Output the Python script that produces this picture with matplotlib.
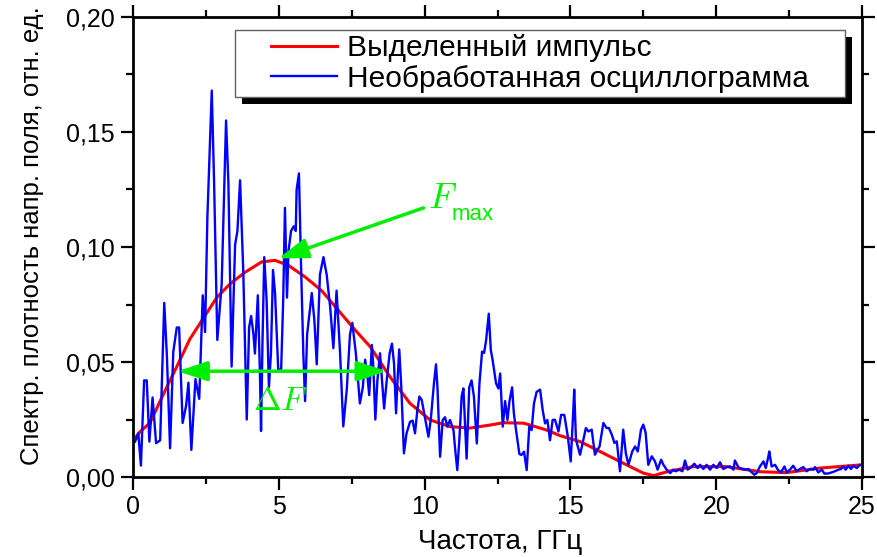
import matplotlib
matplotlib.use('Agg')
import matplotlib.pyplot as plt
from matplotlib.patches import Rectangle
from matplotlib.ticker import MultipleLocator

# smooth spectrum of the extracted pulse (red)
red_x = [0.1, 0.24, 0.58, 1.04, 1.5, 1.95, 2.41, 2.87, 3.33, 3.84, 4.41, 4.87, 5.33, 5.9, 6.47,
         7.04, 7.61, 8.13, 8.81, 9.5, 10.19, 10.87, 11.56, 12.2, 12.7, 13.4, 14.19, 14.64, 15.33,
         15.78, 16.7, 17.5, 17.85, 18.4, 19.2, 20.36, 21.5, 22.4, 23.56, 24.9]
red_y = [0.0175, 0.0197, 0.0235, 0.036, 0.048, 0.060, 0.069, 0.078, 0.084, 0.089, 0.0935, 0.0942,
         0.092, 0.087, 0.081, 0.0725, 0.064, 0.0567, 0.0436, 0.032, 0.0248, 0.0219, 0.0213, 0.0225,
         0.0236, 0.0234, 0.0204, 0.018, 0.0154, 0.0126, 0.0067, 0.0017, 0.0006, 0.0026, 0.0045,
         0.0045, 0.0023, 0.0019, 0.0039, 0.0052]

# raw oscillogram spectrum (blue)
blue_x = [0.07, 0.18, 0.27, 0.38, 0.47, 0.56, 0.67, 0.79, 0.93, 1.07, 1.16, 1.27, 1.38, 1.5, 1.58,
          1.7, 1.82, 1.9, 2.0, 2.14, 2.27, 2.39, 2.47, 2.55, 2.7, 2.78, 2.89, 3.04, 3.19, 3.27,
          3.38, 3.5, 3.58, 3.67, 3.78, 3.9,
          3.98, 4.05, 4.13, 4.18, 4.28, 4.35, 4.39, 4.44, 4.5, 4.58, 4.66, 4.73, 4.8, 4.87, 4.98,
          5.08, 5.15, 5.21, 5.28, 5.33, 5.42, 5.51, 5.58, 5.61, 5.69, 5.76, 5.84, 5.9, 5.97, 6.13,
          6.22, 6.3, 6.41, 6.53, 6.64, 6.76, 6.87, 6.98, 7.1, 7.21, 7.33, 7.44, 7.52, 7.64,
          7.78, 7.88, 7.96, 8.04, 8.1, 8.19, 8.24, 8.31, 8.38, 8.47, 8.53, 8.61, 8.7, 8.8, 8.88,
          8.95, 9.02, 9.07, 9.13, 9.2, 9.29, 9.38, 9.5, 9.59, 9.67, 9.75, 9.82, 9.9, 10.01, 10.13,
          10.21, 10.32, 10.39, 10.44, 10.53, 10.62, 10.7, 10.78, 10.87, 10.99, 11.05, 11.12,
          11.19, 11.27, 11.33, 11.44, 11.53, 11.61, 11.69, 11.79, 11.88, 11.97, 12.04, 12.11,
          12.2, 12.27, 12.33, 12.45, 12.53, 12.59, 12.68, 12.76, 12.84, 12.91, 13.0, 13.06,
          13.15, 13.25, 13.32, 13.41, 13.5, 13.59, 13.67, 13.75, 13.84, 13.96, 14.05, 14.13,
          14.21, 14.3, 14.39,
          14.47, 14.59, 14.68, 14.79, 14.91, 15.01, 15.1, 15.13, 15.19, 15.33, 15.42, 15.53,
          15.62, 15.73, 15.84, 15.93, 16.0, 16.13, 16.24, 16.32, 16.42, 16.51, 16.59, 16.7,
          16.81, 16.9, 16.99, 17.12, 17.22, 17.31, 17.42, 17.5, 17.58, 17.67, 17.79, 17.9,
          17.99, 18.11, 18.19, 18.3, 18.42, 18.53, 18.61, 18.73, 18.84, 18.93, 19.02, 19.14,
          19.25, 19.36, 19.45, 19.56, 19.67, 19.79, 19.9, 20.02, 20.13, 20.24, 20.36, 20.47,
          20.59, 20.64, 20.76, 20.87, 20.99, 21.1, 21.22, 21.31, 21.39, 21.5, 21.62, 21.7,
          21.79, 21.82, 21.9, 22.02, 22.11, 22.22, 22.34, 22.42, 22.53, 22.64, 22.76, 22.87,
          22.99, 23.1, 23.22, 23.33, 23.39, 23.5, 23.62, 23.71, 23.82, 23.96, 24.07, 24.19,
          24.28, 24.36, 24.44, 24.53, 24.62, 24.71, 24.82, 24.93]
blue_y = [0.0154, 0.019, 0.005, 0.042, 0.042, 0.0154, 0.0346, 0.0147, 0.016, 0.0757, 0.053, 0.0125,
          0.0544, 0.065, 0.065, 0.0235, 0.031, 0.041, 0.0118, 0.0426, 0.034, 0.079, 0.063, 0.113,
          0.168, 0.128, 0.0596, 0.084, 0.155, 0.128, 0.048, 0.101, 0.107, 0.129, 0.0897, 0.025,
          0.065, 0.070, 0.062, 0.0537, 0.079, 0.046, 0.020, 0.059, 0.0956, 0.077, 0.039, 0.054,
          0.090, 0.080, 0.0464, 0.047, 0.077, 0.117, 0.078, 0.098, 0.107, 0.109, 0.107, 0.125,
          0.132, 0.093, 0.0537, 0.033, 0.062, 0.080, 0.068, 0.049, 0.088, 0.0956, 0.088, 0.074,
          0.056, 0.081, 0.054, 0.022, 0.038, 0.062, 0.067, 0.054,
          0.032, 0.039, 0.051, 0.0436, 0.0356, 0.0574, 0.048, 0.025, 0.042, 0.0538, 0.0436,
          0.0298, 0.042, 0.0538, 0.058, 0.0494, 0.0277, 0.042, 0.0555, 0.039, 0.0103, 0.019,
          0.024, 0.0245, 0.019, 0.029, 0.035, 0.0335, 0.026, 0.0175, 0.0248, 0.0407, 0.049,
          0.039, 0.0088, 0.0248, 0.026, 0.0219, 0.0248, 0.0204, 0.0117, 0.003, 0.016, 0.035,
          0.0385, 0.008, 0.039, 0.042, 0.035, 0.0146, 0.0407, 0.0545, 0.054, 0.0596, 0.071,
          0.0552, 0.051, 0.0407, 0.0385, 0.045, 0.0219, 0.033, 0.0248, 0.033, 0.039, 0.0277,
          0.019, 0.010, 0.0096, 0.011, 0.003, 0.022, 0.0204, 0.032, 0.037, 0.038, 0.029, 0.0233,
          0.0248, 0.016, 0.0248,
          0.0249, 0.0198, 0.027, 0.027, 0.0177, 0.0068, 0.0293, 0.038, 0.0162, 0.0097, 0.0148,
          0.0213, 0.0198, 0.0206, 0.0097, 0.0119, 0.0133, 0.0235, 0.0213, 0.0213, 0.0184, 0.0148,
          0.0155, 0.0025, 0.0206, 0.0104, 0.0053, 0.0111, 0.0133, 0.0111, 0.0206, 0.0228, 0.0192,
          0.0053, 0.009, 0.0068, 0.0032, 0.0075, 0.0053, 0.0032, 0.0017, 0.0032, 0.0025, 0.0032,
          0.0025, 0.0072, 0.0032, 0.0043, 0.0058, 0.0039, 0.0053, 0.0035, 0.0053, 0.0032, 0.0053,
          0.0039, 0.0064, 0.0035, 0.0043, 0.0046, 0.0032, 0.0072, 0.0043, 0.0035, 0.0032, 0.0035,
          0.002, 0.001, 0.0017, 0.0046, 0.0068, 0.0039, 0.009, 0.0111, 0.0046, 0.0053, 0.0032,
          0.002, 0.0046, 0.002, 0.0032, 0.0049, 0.0025, 0.0035, 0.0043, 0.0025, 0.0035, 0.0032,
          0.0043, 0.002, 0.0032, 0.0015, 0.0015, 0.002, 0.0025, 0.0032, 0.0035, 0.0046, 0.0032,
          0.0049, 0.0035, 0.0049, 0.0039, 0.0053]

labels = ['Выделенный импульс', 'Необработанная осциллограмма']
x_ticks = [0, 5, 10, 15, 20, 25]
y_ticks = [0.0, 0.05, 0.10, 0.15, 0.20]
y_ticklabels = ['0,00', '0,05', '0,10', '0,15', '0,20']

# annotation anchors
fmax_tip = (4.98, 0.095)
fmax_tail = (9.96, 0.117)
df_level = 0.046
df_left, df_right = 1.53, 8.7

green = '#00ee00'

plt.rcParams['font.family'] = ['Liberation Sans', 'DejaVu Sans']
plt.rcParams['mathtext.fontset'] = 'cm'

fig = plt.figure(figsize=(8.77, 5.57), dpi=100)
ax = fig.add_axes([0.1517, 0.1436, 0.8312, 0.8259])

ax.plot(red_x, red_y, color='#ff0000', lw=2.2, label=labels[0])
ax.plot(blue_x, blue_y, color='#0000ff', lw=1.7, label=labels[1])

ax.set_xlim(0, 25)
ax.set_ylim(0, 0.2)
ax.set_xticks(x_ticks)
ax.set_yticks(y_ticks)
ax.set_yticklabels(y_ticklabels)
ax.xaxis.set_minor_locator(MultipleLocator(2.5))
ax.yaxis.set_minor_locator(MultipleLocator(0.025))
ax.tick_params(which='both', direction='out', top=True, right=True, width=1.6, labelsize=18, pad=4)
ax.tick_params(which='major', length=9)
ax.tick_params(which='minor', length=5)
for sp in ax.spines.values():
    sp.set_linewidth(2)

ax.set_xlabel('Частота, ГГц', fontsize=20)
ax.set_ylabel('Спектр. плотность напр. поля, отн. ед.', fontsize=18.5)
ax.xaxis.set_label_coords(0.503, -0.112)
ax.yaxis.set_label_coords(-0.122, 0.524)

# F_max arrow
ax.annotate('', xy=fmax_tip, xytext=fmax_tail,
            arrowprops=dict(arrowstyle='-|>,head_length=0.9,head_width=0.3', color=green,
                            lw=2.5, mutation_scale=20, shrinkA=0, shrinkB=0))
ax.text(fmax_tail[0] + 0.14, fmax_tail[1], r'$F$', color=green, fontsize=26)
ax.text(10.94, 0.1117, 'max', color=green, fontsize=16)

# delta F arrow
ax.annotate('', xy=(df_left, df_level), xytext=(df_right, df_level),
            arrowprops=dict(arrowstyle='<|-|>,head_length=0.9,head_width=0.3', color=green,
                            lw=2.5, mutation_scale=20, shrinkA=0, shrinkB=0))
ax.text(4.12, 0.0291, r'$\Delta F$', color=green, fontsize=24)

# legend with a hard black drop shadow
box = (0.14, 0.826, 0.837, 0.146)
ax.add_patch(Rectangle((box[0] + 0.0096, box[1] - 0.0152), box[2], box[3], transform=ax.transAxes,
                       fc='black', ec='none', zorder=4.6, clip_on=False))
ax.add_patch(Rectangle(box[:2], box[2], box[3], transform=ax.transAxes,
                       fc='white', ec='#606060', lw=1, zorder=4.7, clip_on=False))
ax.legend(loc='center', bbox_to_anchor=(0.5585, 0.899), frameon=False, fontsize=21.5,
          handlelength=2.2, handletextpad=0.36, labelspacing=0.1)

fig.savefig('out.png', dpi=100)
